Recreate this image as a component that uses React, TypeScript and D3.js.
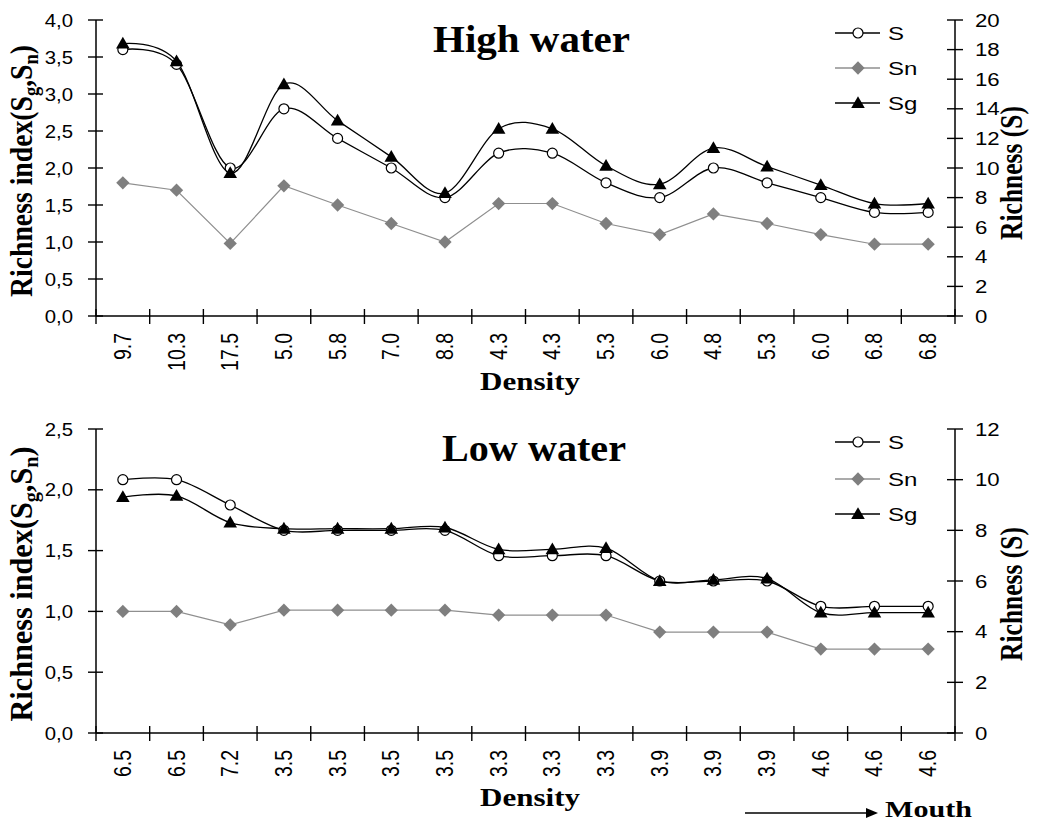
import React from "react";
import * as d3 from "d3";

const categoriesHigh = ["9.7", "10.3", "17.5", "5.0", "5.8", "7.0", "8.8", "4.3", "4.3", "5.3", "6.0", "4.8", "5.3", "6.0", "6.8", "6.8"];
const sHigh = [18, 17, 10, 14, 12, 10, 8, 11, 11, 9, 8, 10, 9, 8, 7, 7];
const snHigh = [1.8, 1.7, 0.98, 1.76, 1.5, 1.25, 1.0, 1.52, 1.52, 1.25, 1.1, 1.38, 1.25, 1.1, 0.97, 0.97];
const sgHigh = [3.68, 3.44, 1.93, 3.13, 2.64, 2.15, 1.66, 2.53, 2.53, 2.03, 1.78, 2.27, 2.02, 1.77, 1.52, 1.52];

const categoriesLow = ["6.5", "6.5", "7.2", "3.5", "3.5", "3.5", "3.5", "3.3", "3.3", "3.3", "3.9", "3.9", "3.9", "4.6", "4.6", "4.6"];
const sLow = [10, 10, 9, 8, 8, 8, 8, 7, 7, 7, 6, 6, 6, 5, 5, 5];
const snLow = [1.0, 1.0, 0.89, 1.01, 1.01, 1.01, 1.01, 0.97, 0.97, 0.97, 0.83, 0.83, 0.83, 0.69, 0.69, 0.69];
const sgLow = [1.94, 1.95, 1.73, 1.68, 1.68, 1.68, 1.69, 1.51, 1.51, 1.52, 1.25, 1.26, 1.27, 0.99, 0.99, 0.99];

const leftTicksHigh = [0, 0.5, 1, 1.5, 2, 2.5, 3, 3.5, 4];
const rightTicksHigh = [0, 2, 4, 6, 8, 10, 12, 14, 16, 18, 20];
const leftTicksLow = [0, 0.5, 1, 1.5, 2, 2.5];
const rightTicksLow = [0, 2, 4, 6, 8, 10, 12];

const legendItems = ["S", "Sn", "Sg"];

const SANS = "'Liberation Sans', Arial, sans-serif";
const SERIF = "'Liberation Serif', 'Times New Roman', serif";
const GRAY_LINE = "#8f8f8f";
const GRAY_MARK = "#7f7f7f";

const X0 = 96;
const X1 = 955;

const triPath = d3.symbol(d3.symbolTriangle, 80)() as string;
const diaPath = d3.symbol(d3.symbolSquare, 88)() as string;

function Marker({ kind, x, y }: { kind: string; x: number; y: number }) {
  if (kind === "S") return <circle cx={x} cy={y} r={5} fill="#fff" stroke="#000" strokeWidth={1.2} />;
  if (kind === "Sn") return <path d={diaPath} transform={`translate(${x},${y}) rotate(45)`} fill={GRAY_MARK} />;
  return <path d={triPath} transform={`translate(${x},${y + 1})`} fill="#000" />;
}

type PanelProps = {
  title: string;
  titleX: number;
  titleW: number;
  top: number;
  bottom: number;
  leftMax: number;
  rightMax: number;
  leftTicks: number[];
  rightTicks: number[];
  cats: string[];
  s: number[];
  sn: number[];
  sg: number[];
  legendY: number[];
  leftLabelLen: number;
  rightLabelY: number;
  densityY: number;
};

function Panel(p: PanelProps) {
  const xb = d3.scaleBand<number>().domain(d3.range(p.cats.length)).range([X0, X1]);
  const cx = (i: number) => (xb(i) as number) + xb.bandwidth() / 2;
  const yL = d3.scaleLinear().domain([0, p.leftMax]).range([p.bottom, p.top]);
  const yR = d3.scaleLinear().domain([0, p.rightMax]).range([p.bottom, p.top]);
  const smooth = d3.line<number>().x((_, i) => cx(i)).curve(d3.curveCardinal.tension(0));
  const straight = d3.line<number>().x((_, i) => cx(i));
  const sPath = smooth.y((v) => yR(v))(p.s) as string;
  const sgPath = smooth.y((v) => yL(v))(p.sg) as string;
  const snPath = straight.y((v) => yL(v))(p.sn) as string;
  const fmt = (v: number) => d3.format(".1f")(v).replace(".", ",");
  const boundaries = d3.range(p.cats.length + 1).map((k) => X0 + k * xb.bandwidth());
  const midY = (p.top + p.bottom) / 2;

  return (
    <g>
      {/* axes */}
      <line x1={X0} x2={X0} y1={p.top} y2={p.bottom} stroke="#000" strokeWidth={1.5} />
      <line x1={X1} x2={X1} y1={p.top} y2={p.bottom} stroke="#000" strokeWidth={1.5} />
      <line x1={X0} x2={X1} y1={p.bottom} y2={p.bottom} stroke="#000" strokeWidth={1.5} />
      {p.leftTicks.map((t) => (
        <g key={"l" + t}>
          <line x1={X0 - 8} x2={X0 + 7} y1={yL(t)} y2={yL(t)} stroke="#000" strokeWidth={1.4} />
          <g transform={`translate(73,${yL(t)}) scale(1.1,1)`}>
            <text x={0} y={0} dy="0.36em" textAnchor="end" fontFamily={SANS} fontSize={18.5} fill="#000">
              {fmt(t)}
            </text>
          </g>
        </g>
      ))}
      {p.rightTicks.map((t) => (
        <g key={"r" + t}>
          <line x1={X1 - 8} x2={X1 + 8} y1={yR(t)} y2={yR(t)} stroke="#000" strokeWidth={1.4} />
          <g transform={`translate(975,${yR(t)}) scale(1.2,1)`}>
            <text x={0} y={0} dy="0.36em" textAnchor="start" fontFamily={SANS} fontSize={18.5} fill="#000">
              {t}
            </text>
          </g>
        </g>
      ))}
      {boundaries.map((bx, k) => (
        <line key={"b" + k} x1={bx} x2={bx} y1={p.bottom - 7} y2={p.bottom + 8} stroke="#000" strokeWidth={1.4} />
      ))}
      {p.cats.map((c, i) => (
        <g key={"c" + i} transform={`translate(${cx(i) + 8},${p.bottom + 17}) scale(1.25,1) rotate(-90)`}>
          <text x={0} y={0} textAnchor="end" fontFamily={SANS} fontSize={19.5} fill="#000">
            {c}
          </text>
        </g>
      ))}

      {/* series */}
      <path d={snPath} fill="none" stroke={GRAY_LINE} strokeWidth={1.2} />
      <path d={sPath} fill="none" stroke="#000" strokeWidth={1.3} />
      <path d={sgPath} fill="none" stroke="#000" strokeWidth={1.3} />
      {p.sn.map((v, i) => <Marker key={"n" + i} kind="Sn" x={cx(i)} y={yL(v)} />)}
      {p.s.map((v, i) => <Marker key={"s" + i} kind="S" x={cx(i)} y={yR(v)} />)}
      {p.sg.map((v, i) => <Marker key={"g" + i} kind="Sg" x={cx(i)} y={yL(v)} />)}

      {/* title */}
      <text x={p.titleX} y={p.top + 32} fontFamily={SERIF} fontWeight="bold" fontSize={38} textLength={p.titleW} lengthAdjust="spacingAndGlyphs" fill="#000">
        {p.title}
      </text>

      {/* legend */}
      {legendItems.map((k, i) => (
        <g key={"lg" + k}>
          <line x1={835} x2={880} y1={p.legendY[i]} y2={p.legendY[i]} stroke={k === "Sn" ? GRAY_LINE : "#000"} strokeWidth={1.3} />
          <Marker kind={k} x={858} y={p.legendY[i]} />
          <g transform={`translate(888,${p.legendY[i]}) scale(1.3,1)`}>
            <text x={0} y={0} dy="0.36em" fontFamily={SANS} fontSize={18.5} fill="#000">
              {k}
            </text>
          </g>
        </g>
      ))}

      {/* axis titles */}
      <g transform={`translate(32,${midY + 3}) scale(1.15,1) rotate(-90)`}>
        <text x={0} y={0} textAnchor="middle" fontFamily={SERIF} fontWeight="bold" fontSize={27} fill="#000" textLength={p.leftLabelLen} lengthAdjust="spacingAndGlyphs">
          Richness index(S<tspan fontSize={18} dy={5}>g</tspan><tspan dy={-5}>,S</tspan><tspan fontSize={18} dy={5}>n</tspan><tspan dy={-5}>)</tspan>
        </text>
      </g>
      <g transform={`translate(1022,${p.rightLabelY}) scale(1.2,1) rotate(-90)`}>
        <text x={0} y={0} textAnchor="middle" fontFamily={SERIF} fontWeight="bold" fontSize={25.5} fill="#000">
          Richness (S)
        </text>
      </g>
      <text x={480} y={p.densityY} fontFamily={SERIF} fontWeight="bold" fontSize={26} textLength={100} lengthAdjust="spacingAndGlyphs" fill="#000">
        Density
      </text>
    </g>
  );
}

export default function App() {
  return (
    <svg width={1037} height={822} style={{ position: "absolute", left: 0, top: 0, background: "#fff" }}>
      <rect x={0} y={0} width={1037} height={822} fill="#fff" />
      <Panel
        title="High water"
        titleX={433}
        titleW={197}
        top={20}
        bottom={316}
        leftMax={4}
        rightMax={20}
        leftTicks={leftTicksHigh}
        rightTicks={rightTicksHigh}
        cats={categoriesHigh}
        s={sHigh}
        sn={snHigh}
        sg={sgHigh}
        legendY={[33, 68, 103]}
        leftLabelLen={252}
        rightLabelY={173}
        densityY={390}
      />
      <Panel
        title="Low water"
        titleX={442}
        titleW={184}
        top={429}
        bottom={733}
        leftMax={2.5}
        rightMax={12}
        leftTicks={leftTicksLow}
        rightTicks={rightTicksLow}
        cats={categoriesLow}
        s={sLow}
        sn={snLow}
        sg={sgLow}
        legendY={[442, 479, 514]}
        leftLabelLen={275}
        rightLabelY={594}
        densityY={806}
      />
      <line x1={745} x2={868} y1={813} y2={813} stroke="#000" strokeWidth={1.5} />
      <path d="M878,813 L866,808 L866,818 Z" fill="#000" />
      <text x={885} y={817} fontFamily={SERIF} fontWeight="bold" fontSize={24} textLength={87} lengthAdjust="spacingAndGlyphs" fill="#000">
        Mouth
      </text>
    </svg>
  );
}
